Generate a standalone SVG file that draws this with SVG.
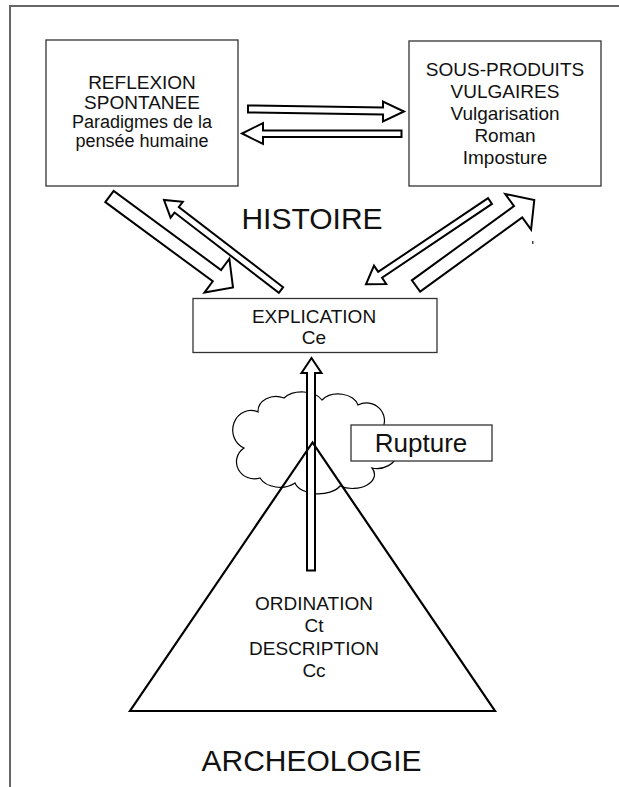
<svg xmlns="http://www.w3.org/2000/svg" width="619" height="787" viewBox="0 0 619 787">
  <style>
    .frame { fill: none; stroke: #666; stroke-width: 2; }
    .box { fill: #fff; stroke: #333; stroke-width: 1.3; }
    .arrow { fill: #fff; stroke: #000; stroke-width: 2; stroke-linejoin: miter; }
    .thin { fill: #fff; stroke: #000; stroke-width: 1.2; }
    .line { fill: none; stroke: #000; stroke-width: 2.2; stroke-linejoin: miter; }
    text { font-family: "Liberation Sans", Arial, Helvetica, sans-serif; fill: #111; text-anchor: middle; }
    .t18 { font-size: 18px; }
    .t19 { font-size: 19px; }
    .t26 { font-size: 26px; }
    .t30 { font-size: 30px; }
  </style>

  <!-- page frame -->
  <path class="frame" d="M10,787 V6 H619"/>

  <!-- title labels -->
  <g id="histoire"><text class="t30" x="312" y="229">HISTOIRE</text></g>
  <g id="archeologie"><text class="t30" x="311.5" y="771">ARCHEOLOGIE</text></g>

  <!-- top-left box -->
  <g id="reflexion">
    <rect class="box" x="46" y="40" width="192" height="146"/>
    <text class="t19" x="142" y="89">REFLEXION</text>
    <text class="t19" x="142" y="108.5">SPONTANEE</text>
    <text class="t18" x="142" y="128">Paradigmes de la</text>
    <text class="t18" x="142" y="147">pensée humaine</text>
  </g>

  <!-- top-right box -->
  <g id="sous-produits">
    <rect class="box" x="409" y="41" width="192" height="145"/>
    <text class="t19" x="505" y="76">SOUS-PRODUITS</text>
    <text class="t19" x="505" y="98">VULGAIRES</text>
    <text class="t19" x="505" y="120">Vulgarisation</text>
    <text class="t19" x="505" y="142">Roman</text>
    <text class="t19" x="505" y="163.5">Imposture</text>
  </g>

  <!-- explanation box -->
  <g id="explication">
    <rect class="box" x="193" y="298.5" width="244" height="54"/>
    <text class="t19" x="314" y="323">EXPLICATION</text>
    <text class="t19" x="314" y="343.5">Ce</text>
  </g>

  <!-- cloud behind the pyramid apex -->
  <g id="nuage">
    <path class="thin" d="M258,412 A18,15 0 0 1 284,398 A22,14 0 0 1 322,400 A20,14 0 0 1 358,405 A18,18 0 0 1 382,430 A20,18 0 0 1 372,468 A22,14 0 0 1 340,486 A24,14 0 0 1 295,483 A22,16 0 0 1 260,478 A18,17 0 0 1 244,448 A15,16 0 0 1 258,412 Z"/>
  </g>

  <!-- connectors (block arrows) -->
  <g id="connecteurs">
    <!-- reflexion <-> sous-produits -->
    <polygon class="arrow" points="248,105.5 383,107.5 383,101.5 404,111.5 383,121.5 383,114.5 248,112.5"/>
    <polygon class="arrow" points="401.5,130.5 263,130.5 263,123 242,133.5 263,144 263,137 401.5,137"/>
    <!-- reflexion -> explication -->
    <polygon class="arrow" points="105.35,202.14 212.75,281.28 204.45,292.54 233,287.5 229.35,258.74 221.05,270 113.65,190.87"/>
    <!-- explication -> reflexion -->
    <polygon class="arrow" points="283.13,287.23 178.81,206.99 182.78,201.83 164,200 170.58,217.69 174.55,212.53 278.87,292.77"/>
    <!-- sous-produits -> explication -->
    <polygon class="arrow" points="488.05,198.1 378.16,271.92 373.98,265.69 366,284.3 386.24,283.95 382.06,277.73 491.95,203.9"/>
    <!-- explication -> sous-produits -->
    <polygon class="arrow" points="420.12,291.66 522.24,217.42 531.06,229.56 534.3,200 505.18,193.96 514,206.1 411.88,280.34"/>
    <!-- archeologie -> explication -->
    <polygon class="arrow" points="307,570.5 307,373 301.5,373 311.5,358 321.5,373 315,373 315,570.5"/>
  </g>

  <!-- pyramid -->
  <g id="pyramide">
    <polygon class="line" points="312.5,442.5 130,711 495,711"/>
    <text class="t19" x="314" y="610">ORDINATION</text>
    <text class="t19" x="314" y="632">Ct</text>
    <text class="t19" x="314" y="655">DESCRIPTION</text>
    <text class="t19" x="314" y="677">Cc</text>
  </g>

  <!-- rupture label -->
  <g id="rupture">
    <rect class="box" x="351" y="425" width="141" height="36"/>
    <text class="t26" x="421" y="452">Rupture</text>
  </g>

  <!-- small stray mark at right -->
  <rect x="532" y="241" width="1.5" height="3" fill="#444"/>
</svg>
